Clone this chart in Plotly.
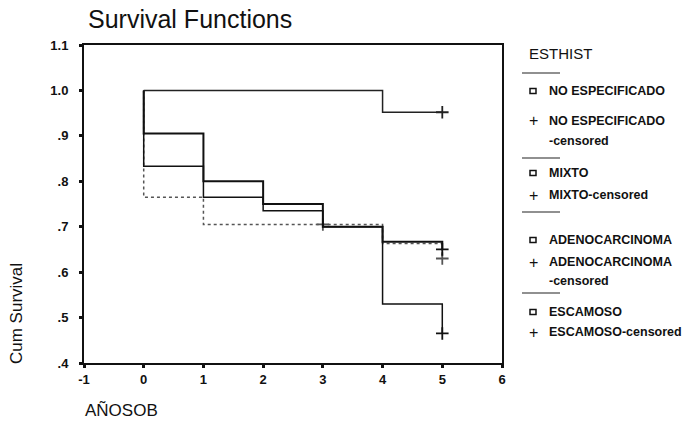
import plotly.graph_objects as go

# ---- data ----
groups = ["NO ESPECIFICADO", "MIXTO", "ADENOCARCINOMA", "ESCAMOSO"]
no_esp_t = [0, 0, 4, 5]
no_esp_s = [1.0, 1.0, 0.952, 0.952]
mixto_t = [0, 0, 1, 4, 5]
mixto_s = [1.0, 0.765, 0.705, 0.663, 0.63]
adeno_t = [0, 0, 1, 2, 3, 4, 5]
adeno_s = [1.0, 0.905, 0.80, 0.75, 0.70, 0.667, 0.65]
escam_t = [0, 0, 1, 2, 3, 4, 5]
escam_s = [1.0, 0.833, 0.765, 0.735, 0.70, 0.53, 0.465]

cens_no_esp_t, cens_no_esp_s = [5], [0.952]
cens_mixto_t, cens_mixto_s = [3, 5], [0.705, 0.63]
cens_adeno_t, cens_adeno_s = [5], [0.65]
cens_escam_t, cens_escam_s = [5], [0.465]

x_ticks = [-1, 0, 1, 2, 3, 4, 5, 6]
y_ticks = [0.4, 0.5, 0.6, 0.7, 0.8, 0.9, 1.0, 1.1]
y_tick_labels = [".4", ".5", ".6", ".7", ".8", ".9", "1.0", "1.1"]

FONT = "Liberation Sans, Arial, sans-serif"
W, H = 692, 421
L, R, T, B = 84, 502, 45, 363  # plot area in pixels

series = [
    (no_esp_t, no_esp_s, cens_no_esp_t, cens_no_esp_s, "#222222", "solid", 1.5),
    (mixto_t, mixto_s, cens_mixto_t, cens_mixto_s, "#555555", "dot", 1.5),
    (adeno_t, adeno_s, cens_adeno_t, cens_adeno_s, "#111111", "solid", 2),
    (escam_t, escam_s, cens_escam_t, cens_escam_s, "#111111", "solid", 1.5),
]

fig = go.Figure()
for t, s, ct, cs, col, dash, w in series:
    fig.add_trace(go.Scatter(x=t, y=s, mode="lines", line=dict(shape="hv", color=col, width=w, dash=dash),
                             showlegend=False, hoverinfo="skip"))
    fig.add_trace(go.Scatter(x=ct, y=cs, mode="markers",
                             marker=dict(symbol="cross-thin", size=9, line=dict(color=col, width=1.8)),
                             showlegend=False, hoverinfo="skip"))


def px(x):
    return (x - L) / (R - L)


def py(y):
    return (B - y) / (B - T)


ann = []
shapes = []
ann.append(dict(text="Survival Functions", x=px(86), y=py(19), xref="paper", yref="paper",
                xanchor="left", yanchor="middle", showarrow=False,
                font=dict(family=FONT, size=25, color="#111")))
ann.append(dict(text="Cum Survival", x=px(16), y=py(314), xref="paper", yref="paper",
                xanchor="center", yanchor="middle", showarrow=False, textangle=-90,
                font=dict(family=FONT, size=17, color="#111")))
ann.append(dict(text="AÑOSOB", x=px(83), y=py(410), xref="paper", yref="paper",
                xanchor="left", yanchor="middle", showarrow=False,
                font=dict(family=FONT, size=17, color="#111")))
ann.append(dict(text="ESTHIST", x=px(527), y=py(53), xref="paper", yref="paper",
                xanchor="left", yanchor="middle", showarrow=False,
                font=dict(family=FONT, size=15, color="#111")))

leg_rows = [
    ("sep", 73), ("sq", 91, groups[0]), ("plus", 121, groups[0]), ("txt", 141, "-censored"),
    ("sep", 158), ("sq", 173, groups[1]), ("plus", 195, groups[1] + "-censored"),
    ("sep", 212), ("sq", 240, groups[2]), ("plus", 262, groups[2]), ("txt", 281, "-censored"),
    ("sep", 293), ("sq", 312, groups[3]), ("plus", 332, groups[3] + "-censored"),
]
for row in leg_rows:
    kind, yy = row[0], row[1]
    if kind == "sep":
        shapes.append(dict(type="line", xref="paper", yref="paper", x0=px(522), x1=px(560),
                           y0=py(yy), y1=py(yy), line=dict(color="#222", width=1.2)))
        continue
    if kind == "sq":
        shapes.append(dict(type="rect", xref="paper", yref="paper", x0=px(530), x1=px(536),
                           y0=py(yy + 2.5), y1=py(yy - 2.5), line=dict(color="#111", width=1.5)))
    if kind == "plus":
        ann.append(dict(text="+", x=px(533), y=py(yy), xref="paper", yref="paper",
                        xanchor="center", yanchor="middle", showarrow=False,
                        font=dict(family=FONT, size=16, color="#111")))
    ann.append(dict(text="<b>" + row[2] + "</b>", x=px(547), y=py(yy), xref="paper", yref="paper",
                    xanchor="left", yanchor="middle", showarrow=False,
                    font=dict(family=FONT, size=12.5, color="#111")))

fig.update_layout(
    width=W, height=H,
    margin=dict(l=L, r=W - R, t=T, b=H - B, pad=0),
    paper_bgcolor="white", plot_bgcolor="white",
    showlegend=False,
    annotations=ann, shapes=shapes,
    font=dict(family=FONT, color="#111"),
)
fig.update_xaxes(range=[-1, 6], tickvals=x_ticks, ticktext=["<b>%d</b>" % v for v in x_ticks],
                 showgrid=False, zeroline=False, showline=True, linecolor="#111", linewidth=2,
                 mirror=True, ticks="outside", ticklen=3, tickwidth=3, tickcolor="#111",
                 tickfont=dict(family=FONT, size=13, color="#111"))
fig.update_yaxes(range=[0.4, 1.1], tickvals=y_ticks, ticktext=["<b>%s</b>" % t for t in y_tick_labels],
                 showgrid=False, zeroline=False, showline=True, linecolor="#111", linewidth=2,
                 mirror=True, ticks="outside", ticklen=3, tickwidth=3, tickcolor="#111",
                 ticklabelstandoff=8,
                 tickfont=dict(family=FONT, size=13, color="#111"))

fig.write_html("out.html")
